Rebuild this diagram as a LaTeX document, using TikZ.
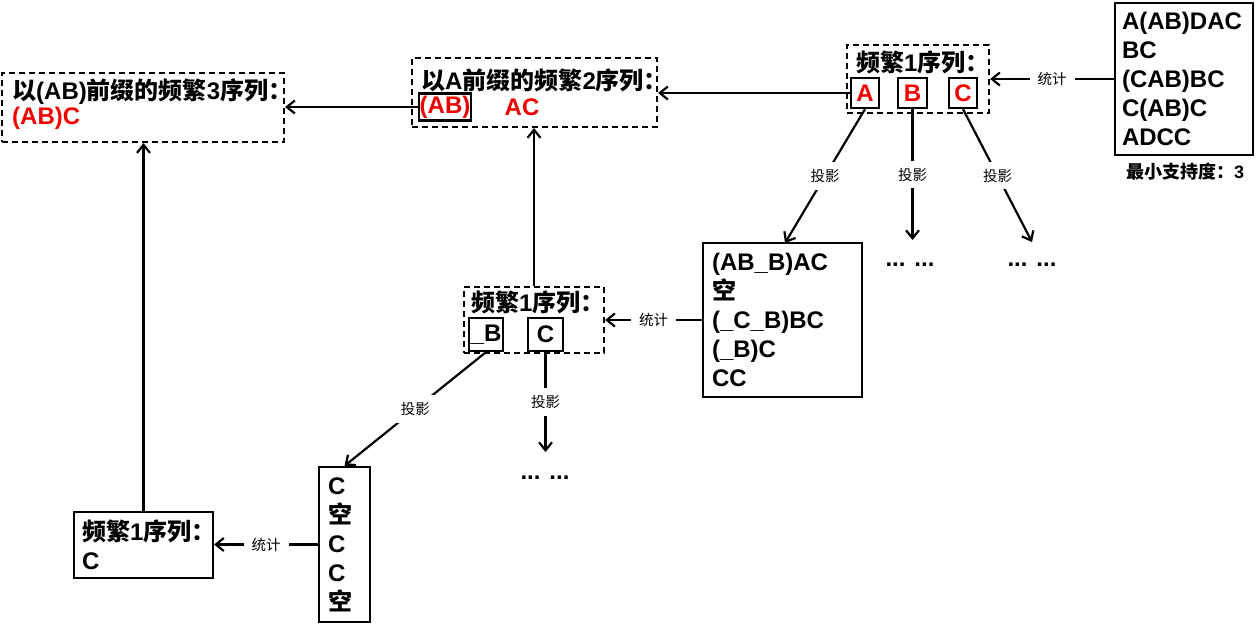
\documentclass[tikz,border=0pt]{standalone}
\usepackage{fontspec}
\setmainfont{Liberation Sans}
\newfontfamily\cj{Noto Sans CJK SC}
\usetikzlibrary{arrows.meta}
\definecolor{myred}{RGB}{240,0,0}
\newcommand\zh[1]{{\cj #1}}
\begin{document}
\begin{tikzpicture}[x=1pt,y=-1pt,
  big/.style={font=\fontsize{24}{29}\selectfont\bfseries},
  dbox/.style={draw, line width=2.2pt, dash pattern=on 6pt off 4pt, inner sep=0pt},
  sbox/.style={draw, line width=2.2pt, inner sep=0pt},
  arr/.style={line width=2.2pt, -{Straight Barb[length=8pt,width=13pt]}},
  lbl/.style={font=\cj\fontsize{14.5}{15}\selectfont, fill=white, inner xsep=8pt, inner ysep=7pt},
  ttl/.style={big, anchor=west, inner sep=0pt},
  item/.style={sbox, big, text=myred},
  item2/.style={sbox, big},
  dots/.style={big, inner sep=0pt},
]
\useasboundingbox (0,0) rectangle (1258,625);

% database box (right)
\node[sbox, big, minimum height=152, text width=124, inner xsep=7pt, align=left] (rbox) at (1184,79)
  {A(AB)DAC\\BC\\(CAB)BC\\C(AB)C\\ADCC};
\node[font=\fontsize{18}{18}\selectfont\bfseries, inner sep=0pt] (minsup) at (1185,172) {\zh{最小支持度：}3};

% top frequent-1 box
\node[dbox, minimum width=142, minimum height=68] (f1) at (918,79) {};
\node[ttl] (f1t) at (856,62) {\zh{频繁}1\zh{序列：}};
\node[item, minimum width=28, minimum height=30] (iA) at (865,93) {A};
\node[item, minimum width=29, minimum height=30] (iB) at (912.5,93) {B};
\node[item, minimum width=28, minimum height=30] (iC) at (963,93) {C};

% frequent-2 box
\node[dbox, minimum width=245, minimum height=69] (s2) at (534.5,92.5) {};
\node[ttl] (s2t) at (421,80) {\zh{以}A\zh{前缀的频繁}2\zh{序列：}};
\node[item, minimum width=52, minimum height=27] (iAB) at (445,107) {(AB)};
\node[big, text=myred, inner sep=0pt] (iAC) at (522,107) {AC};

% frequent-3 box
\node[dbox, minimum width=282, minimum height=69] (s3) at (143,107.5) {};
\node[ttl] (s3t) at (12,92) {\zh{以}(AB)\zh{前缀的频繁}3\zh{序列：}};
\node[ttl, text=myred] (s3c) at (12,118) {(AB)C};

% projected DB of A
\node[sbox, big, minimum height=154, text width=141, inner xsep=9pt, align=left] (pdb) at (782.5,320)
  {(AB\_B)AC\\\zh{空}\\(\_C\_B)BC\\(\_B)C\\CC};

% middle frequent-1 box
\node[dbox, minimum width=140, minimum height=66] (f1m) at (534,320) {};
\node[ttl] (f1mt) at (471,302) {\zh{频繁}1\zh{序列：}};
\node[item2, minimum width=34, minimum height=33] (iuB) at (486,334.5) {\_B};
\node[item2, minimum width=35, minimum height=33] (imC) at (545.5,334.5) {C};

% small projected DB
\node[sbox, big, minimum height=155, text width=33, inner xsep=9pt, align=left] (sdb) at (344.5,544.5)
  {C\\\zh{空}\\C\\C\\\zh{空}};

% bottom frequent-1 box
\node[sbox, big, minimum height=66, text width=123, inner xsep=8pt, align=left] (f1b) at (143.5,545)
  {\zh{频繁}1\zh{序列：}\\C};

% coordinates for open ends
\coordinate (eA) at (785,243);
\coordinate (eB) at (912.5,240);
\coordinate (eC) at (1032,242);
\coordinate (eM) at (545.5,452);
\node[dots] (dB) at (910,265) {... ...};
\node[dots] (dC) at (1032,265) {... ...};
\node[dots] (dM) at (545,478) {... ...};

% connectors
\draw[arr] (rbox.west |- f1.east) -- node[lbl] {统计} (f1.east);
\draw[arr] (iA.west) -- (iA.west -| s2.east);
\draw[arr] (iAB.west) -- (iAB.west -| s3.east);
\draw[arr] (iA.south) -- node[lbl] {投影} (eA);
\draw[arr] (iB.south) -- node[lbl] {投影} (eB);
\draw[arr] (iC.south) -- node[lbl] {投影} (eC);
\draw[arr] (pdb.west) -- node[lbl] {统计} (pdb.west -| f1m.east);
\draw[arr] (f1m.north) -- (f1m.north |- s2.south);
\draw[arr] (iuB.south) -- node[lbl] {投影} (sdb.north);
\draw[arr] (imC.south) -- node[lbl] {投影} (eM);
\draw[arr] (sdb.west) -- node[lbl] {统计} (sdb.west -| f1b.east);
\draw[arr] (f1b.north) -- (f1b.north |- s3.south);
\end{tikzpicture}
\end{document}
